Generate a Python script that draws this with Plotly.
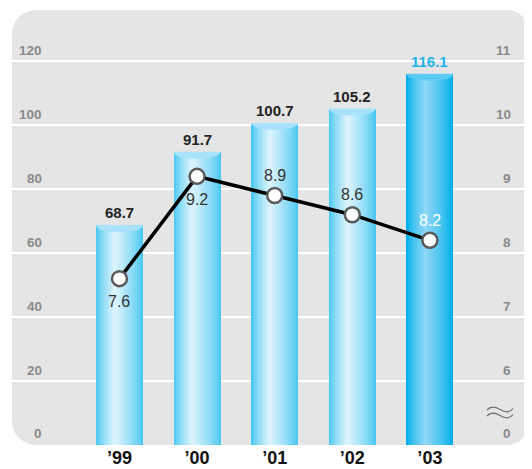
import plotly.graph_objects as go

# ---------------- data ----------------
years = ["’99", "’00", "’01", "’02", "’03"]
bar_values = [68.7, 91.7, 100.7, 105.2, 116.1]
line_values = [7.6, 9.2, 8.9, 8.6, 8.2]
left_ticks = [0, 20, 40, 60, 80, 100, 120]
right_ticks = [6, 7, 8, 9, 10, 11]
right_zero_label = "0"

# ---------------- layout geometry ----------------
# the page body has an 8px margin, so the figure starts at (8, 8) in the window
OFF = 8
FIG_W, FIG_H = 524, 461
M_L, M_R, M_T, M_B = 4, 2, 2, 24
PW = FIG_W - M_L - M_R
PH = FIG_H - M_T - M_B
Y_MAX = 136.0
Y2_MIN = 5.0
Y2_MAX = Y2_MIN + Y_MAX / 20.0
X_RANGE = [-1.385, 5.29]
BAR_W = 0.606

x = list(range(len(years)))


def px_to_paper(px, py):
    """window pixel -> paper coords"""
    fx, fy = px - OFF, py - OFF
    return (fx - M_L) / PW, (FIG_H - M_B - fy) / PH


def hex_to_rgb(h):
    h = h.lstrip("#")
    return tuple(int(h[i:i + 2], 16) for i in (0, 2, 4))


def mix(c1, c2, t):
    a, b = hex_to_rgb(c1), hex_to_rgb(c2)
    return "rgb(%d,%d,%d)" % tuple(round(a[i] + (b[i] - a[i]) * t) for i in range(3))


fig = go.Figure()

# ---------------- cylinder-like bars (layered gradient) ----------------
edge_cols = ["#4ac8f1"] * 4 + ["#00afea"]
mid_cols = ["#e3f5fd"] * 4 + ["#95daf6"]
K = 14
HL = 0.40
for k in range(K):
    t = k / K
    left = -BAR_W / 2 + t * HL * BAR_W
    right = BAR_W / 2 - t * (1 - HL) * BAR_W
    tt = t ** 0.8
    cols = [mix(edge_cols[i], mid_cols[i], tt) for i in range(len(x))]
    fig.add_trace(go.Bar(
        x=x, y=bar_values, width=[right - left] * len(x), offset=[left] * len(x),
        marker=dict(color=cols, line=dict(width=0)),
        hoverinfo="skip", showlegend=False,
    ))

# cylinder caps
cap_cols = ["#a9e3f9"] * 4 + ["#5ccaf3"]
ry = 7.0 / (PH / Y_MAX)
kk = 0.5523
for i, v in enumerate(bar_values):
    xl, xr, xc = x[i] - BAR_W / 2, x[i] + BAR_W / 2, x[i]
    rx = BAR_W / 2
    path = (f"M {xl},{v} C {xl},{v - kk * ry} {xc - kk * rx},{v - ry} {xc},{v - ry} "
            f"C {xc + kk * rx},{v - ry} {xr},{v - kk * ry} {xr},{v} Z")
    fig.add_shape(type="path", path=path, xref="x", yref="y",
                  fillcolor=cap_cols[i], line=dict(width=0), layer="above")

# bar value labels
for i, v in enumerate(bar_values):
    fig.add_annotation(
        x=x[i], y=v, xref="x", yref="y", text=f"<b>{v}</b>", showarrow=False,
        yanchor="bottom", yshift=2,
        font=dict(family="Liberation Sans, Arial", size=15,
                  color="#1eb1ea" if i == len(x) - 1 else "#222222"),
    )

# ---------------- line ----------------
fig.add_trace(go.Scatter(
    x=x, y=line_values, yaxis="y2", mode="lines+markers",
    line=dict(color="#000000", width=3.5),
    marker=dict(size=15, color="#ffffff", line=dict(color="#5a5a5a", width=2.5)),
    hoverinfo="skip", showlegend=False,
))

label_pos = ["below", "below", "above", "above", "above"]
for i, v in enumerate(line_values):
    below = label_pos[i] == "below"
    fig.add_annotation(
        x=x[i], y=v, xref="x", yref="y2", text=f"{v}", showarrow=False,
        yanchor="middle", yshift=-23 if below else 20,
        font=dict(family="Liberation Sans, Arial", size=16,
                  color="#ffffff" if i == len(x) - 1 else "#333333"),
    )

# ---------------- axis labels (left / right) ----------------
lx, _ = px_to_paper(44, 0)
rx_, _ = px_to_paper(513, 0)
for t in left_ticks:
    fig.add_annotation(
        x=lx, y=t, xref="paper", yref="y", text=f"<b>{t}</b>", showarrow=False,
        xanchor="right", yanchor="bottom", yshift=1 if t else 2,
        font=dict(family="Liberation Sans, Arial", size=13.5, color="#8a8a8a"),
    )
for t in right_ticks:
    fig.add_annotation(
        x=rx_, y=t, xref="paper", yref="y2", text=f"<b>{t}</b>", showarrow=False,
        xanchor="right", yanchor="bottom", yshift=1,
        font=dict(family="Liberation Sans, Arial", size=13.5, color="#8a8a8a"),
    )
fig.add_annotation(
    x=rx_, y=Y2_MIN, xref="paper", yref="y2", text=f"<b>{right_zero_label}</b>",
    showarrow=False, xanchor="right", yanchor="bottom", yshift=2,
    font=dict(family="Liberation Sans, Arial", size=13.5, color="#8a8a8a"),
)

# ---------------- panel background (rounded) ----------------
def rounded_panel(x0, y0, x1, y1, r):
    c = 0.5523 * r
    P = px_to_paper
    def s(px, py):
        a, b = P(px, py)
        return f"{a},{b}"
    d = f"M {s(x0 + r, y0)} L {s(x1 - r, y0)} "
    d += f"C {s(x1 - r + c, y0)} {s(x1, y0 + r - c)} {s(x1, y0 + r)} "
    d += f"L {s(x1, y1 - r)} "
    d += f"C {s(x1, y1 - r + c)} {s(x1 - r + c, y1)} {s(x1 - r, y1)} "
    d += f"L {s(x0 + r, y1)} "
    d += f"C {s(x0 + r - c, y1)} {s(x0, y1 - r + c)} {s(x0, y1 - r)} "
    d += f"L {s(x0, y0 + r)} "
    d += f"C {s(x0, y0 + r - c)} {s(x0 + r - c, y0)} {s(x0 + r, y0)} Z"
    return d

fig.add_shape(type="path", path=rounded_panel(12, 10, 530, 445, 24),
              xref="paper", yref="paper", fillcolor="#e5e5e5",
              line=dict(width=0), layer="below")

# axis break symbol
def wave(py_off):
    P = px_to_paper
    def s(px, py):
        a, b = P(px, py + py_off)
        return f"{a},{b}"
    return (f"M {s(487, 410)} C {s(490, 406.5)} {s(495, 406.5)} {s(500, 409.5)} "
            f"C {s(505, 412.5)} {s(510, 412.5)} {s(513, 408.5)}")

for off in (0, 6):
    fig.add_shape(type="path", path=wave(off), xref="paper", yref="paper",
                  line=dict(color="#6e6e6e", width=1.2), layer="above")

# ---------------- layout ----------------
fig.update_layout(
    width=FIG_W, height=FIG_H,
    margin=dict(l=M_L, r=M_R, t=M_T, b=M_B, pad=0),
    paper_bgcolor="#ffffff", plot_bgcolor="rgba(0,0,0,0)",
    barmode="overlay", bargap=0,
    showlegend=False,
    xaxis=dict(range=X_RANGE, tickvals=x, ticktext=years, showgrid=False,
               zeroline=False, showline=False, ticks="",
               tickfont=dict(family="Liberation Sans, Arial", size=18,
                             color="#111111", weight="bold")),
    yaxis=dict(range=[0, Y_MAX], tickvals=left_ticks[1:], showticklabels=False,
               showgrid=True, gridcolor="#ffffff", gridwidth=1.6,
               zeroline=False, showline=False, ticks=""),
    yaxis2=dict(range=[Y2_MIN, Y2_MAX], overlaying="y", side="right",
                showticklabels=False, showgrid=False, zeroline=False,
                showline=False, ticks=""),
)

fig.write_html("out.html")
